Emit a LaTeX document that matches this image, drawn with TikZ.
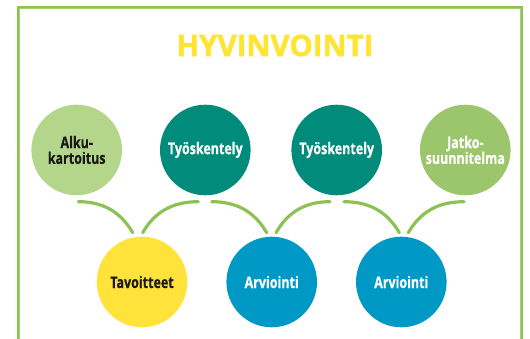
\documentclass[tikz,border=0pt]{standalone}
\usepackage{fontspec}
\setmainfont{Open Sans}
\newfontfamily\labelfont{Open Sans}[FakeStretch=0.78, FakeBold=0.4]
\newfontfamily\headfont{Open Sans}[FakeBold=1.6]
\usetikzlibrary{calc}
\definecolor{frame}{HTML}{8BC451}
\definecolor{frameinner}{HTML}{A3D270}
\definecolor{titleyellow}{HTML}{FFE433}
\definecolor{lightgreen}{HTML}{B3D68A}
\definecolor{teal}{HTML}{008B7A}
\definecolor{midgreen}{HTML}{9CC66B}
\definecolor{sun}{HTML}{FFE23A}
\definecolor{sky}{HTML}{0099C6}
\definecolor{link}{HTML}{8DC153}
\tikzset{
  bubble/.style={circle, minimum size=90.6pt, inner sep=0pt, align=center,
    font=\labelfont\bfseries\fontsize{16}{15.7}\selectfont},
  darktext/.style={bubble, text=black!90},
  lighttext/.style={bubble, text=white},
  arcline/.style={draw=link, line width=3.2pt, line cap=round},
}
\begin{document}
\begin{tikzpicture}[x=1pt, y=-1pt]
  \useasboundingbox (0,0) rectangle (530,339);
  \clip (0,0) rectangle (530,339);
  % outer frame, open at the bottom: a darker outer stroke with a lighter inner one
  \draw[frame, line width=2.8pt] (18.3,350) -- (18.3,7.3) -- (521.2,7.3) -- (521.2,350);
  \draw[frameinner, line width=1pt] (19.2,350) -- (19.2,8.2) -- (520.3,8.2) -- (520.3,350);
  % heading
  \node[text=titleyellow, font=\headfont\bfseries\fontsize{29.5}{30}\selectfont] (title) at (275,45.5) {HYVINVOINTI};
  % upper row
  \node[darktext, fill=lightgreen] (alku) at (76.7,150) {Alku-\\kartoitus};
  \node[lighttext, fill=teal] (tyo1) at (205.3,150) {Työskentely};
  \node[lighttext, fill=teal] (tyo2) at (336.7,150) {Työskentely};
  \node[lighttext, fill=midgreen] (jatko) at (465.3,150) {Jatko-\\suunnitelma};
  % lower row
  \node[darktext, fill=sun] (tavo) at (142,282) {Tavoitteet};
  \node[lighttext, fill=sky] (arv1) at (271.7,282) {Arviointi};
  \node[lighttext, fill=sky] (arv2) at (401.3,282) {Arviointi};
  % end points of the connecting arcs
  \coordinate (alkuR) at ($(alku.center)+(1.6,51.7)$);
  \coordinate (tyo1L) at ($(tyo1.center)+(-7,51.7)$);
  \coordinate (tyo1R) at ($(tyo1.center)+(6.4,51.7)$);
  \coordinate (tyo2L) at ($(tyo2.center)+(-6.7,51.7)$);
  \coordinate (tyo2R) at ($(tyo2.center)+(7.3,51.7)$);
  \coordinate (jatkoL) at ($(jatko.center)+(-1.3,51.7)$);
  \coordinate (tavoL) at ($(tavo.center)+(-9.3,-49.3)$);
  \coordinate (tavoR) at ($(tavo.center)+(0.7,-49.3)$);
  \coordinate (arv1L) at ($(arv1.center)+(-5,-49.3)$);
  \coordinate (arv1R) at ($(arv1.center)+(4.3,-49.3)$);
  \coordinate (arv2L) at ($(arv2.center)+(-2,-49.3)$);
  \coordinate (arv2R) at ($(arv2.center)+(7,-49.3)$);
  % arcs
  \draw[arcline] (alkuR) to[out=0, in=120] (tavoL);
  \draw[arcline] (tyo1L) to[out=180, in=60] (tavoR);
  \draw[arcline] (tyo1R) to[out=0, in=120] (arv1L);
  \draw[arcline] (tyo2L) to[out=180, in=60] (arv1R);
  \draw[arcline] (tyo2R) to[out=0, in=120] (arv2L);
  \draw[arcline] (jatkoL) to[out=180, in=60] (arv2R);
\end{tikzpicture}
\end{document}
